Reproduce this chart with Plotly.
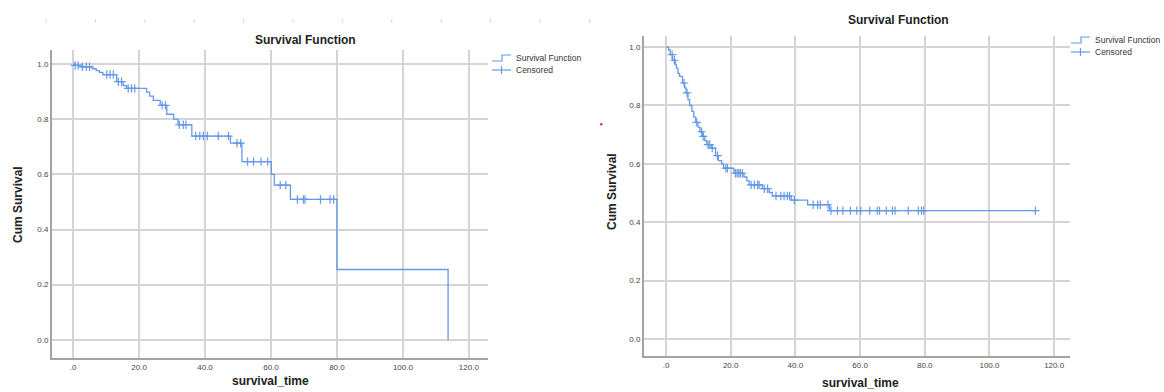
import numpy as np
import plotly.graph_objects as go

# ---------------- data ----------------
x_ticks = [0, 20, 40, 60, 80, 100, 120]
x_tick_labels = [".0", "20.0", "40.0", "60.0", "80.0", "100.0", "120.0"]
y_ticks = [0.0, 0.2, 0.4, 0.6, 0.8, 1.0]
y_tick_labels = ["0.0", "0.2", "0.4", "0.6", "0.8", "1.0"]

# Left chart: event times and survival after each event
left_event_times = [0.4, 2.5, 5.8, 7.0, 8.0, 9.0, 13.2, 15.2, 16.2, 22.3, 23.2, 24.3, 26.4,
                    28.4, 30.5, 31.8, 36.0, 47.7, 51.2, 60.1, 61.0, 65.9, 80.0, 113.7]
left_survival = [0.995, 0.99, 0.983, 0.976, 0.970, 0.962, 0.936, 0.922, 0.912, 0.898, 0.884,
                 0.868, 0.850, 0.818, 0.800, 0.780, 0.739, 0.713, 0.646, 0.600, 0.561, 0.509,
                 0.255, 0.0]
left_censored_times = [0.6, 1.5, 2.8, 4.0, 5.0, 10.2, 11.2, 12.2, 13.7, 14.7, 16.7, 17.7, 18.7,
                       27.0, 28.0, 32.2, 33.4, 34.2, 37.2, 38.4, 39.5, 40.7, 44.0, 47.1, 49.7,
                       50.8, 52.9, 54.7, 57.0, 59.0, 62.8, 64.5, 68.0, 69.8, 70.3, 75.0, 77.9, 79.0]

# Right chart
right_event_times = [0.8, 1.3, 2.0, 2.9, 3.2, 3.7, 4.2, 5.1, 5.8, 6.2, 6.8, 7.3, 8.0, 8.6, 9.2,
                     9.9, 10.5, 11.4, 12.0, 12.6, 14.0, 15.3, 16.2, 17.2, 17.8, 21.0, 24.1, 25.0,
                     25.7, 29.8, 31.9, 32.9, 38.7, 43.8, 50.6]
right_survival = [0.99, 0.974, 0.955, 0.94, 0.928, 0.91, 0.90, 0.877, 0.86, 0.843, 0.82, 0.80,
                  0.78, 0.76, 0.742, 0.726, 0.71, 0.694, 0.68, 0.666, 0.654, 0.628, 0.611, 0.60,
                  0.585, 0.568, 0.555, 0.542, 0.528, 0.515, 0.502, 0.49, 0.476, 0.46, 0.44]
right_last_time = 114.2
right_censored_times = [1.9, 2.6, 5.6, 6.5, 9.5, 11.0, 11.5, 13.0, 13.5, 14.3, 15.9, 18.5, 19.0,
                        21.5, 22.0, 22.5, 23.0, 23.6, 26.3, 27.3, 28.3, 28.8, 30.4, 31.4, 34.0,
                        35.5, 36.5, 37.5, 38.2, 39.7, 45.5, 46.9, 47.7, 50.1, 51.0, 53.0, 54.7,
                        57.0, 59.0, 60.2, 63.0, 65.3, 66.0, 68.1, 70.0, 70.8, 74.9, 78.0, 79.0,
                        79.7, 114.2]

# ---------------- helpers ----------------
W, H = 1164, 392
COL = "#6499e9"
GRID = "#d4d4d4"
AXIS = "#a3a3a3"
FONT = "Liberation Sans"


def fx(x):
    return x / W


def fy(y):
    return 1 - y / H


def surv_at(times, surv, t):
    times = np.asarray(times)
    i = np.searchsorted(times, t, side="right") - 1
    return 1.0 if i < 0 else surv[i]


fig = go.Figure()

marker_style = dict(symbol="cross-thin", size=6, color=COL, line=dict(width=1.2, color=COL))

# left curve
lx = [0.0] + left_event_times
ly = [1.0] + left_survival
fig.add_trace(go.Scatter(x=lx, y=ly, mode="lines", line=dict(color=COL, width=1.3, shape="hv"),
                         xaxis="x", yaxis="y", showlegend=False, hoverinfo="skip"))
fig.add_trace(go.Scatter(x=left_censored_times,
                         y=[surv_at(left_event_times, left_survival, t) for t in left_censored_times],
                         mode="markers", marker=marker_style,
                         xaxis="x", yaxis="y", showlegend=False, hoverinfo="skip"))

# right curve
rx = [0.0] + right_event_times + [right_last_time]
ry = [1.0] + right_survival + [right_survival[-1]]
fig.add_trace(go.Scatter(x=rx, y=ry, mode="lines", line=dict(color=COL, width=1.3, shape="hv"),
                         xaxis="x2", yaxis="y2", showlegend=False, hoverinfo="skip"))
fig.add_trace(go.Scatter(x=right_censored_times,
                         y=[surv_at(right_event_times, right_survival, t) for t in right_censored_times],
                         mode="markers", marker=marker_style,
                         xaxis="x2", yaxis="y2", showlegend=False, hoverinfo="skip"))

common = dict(showgrid=True, gridcolor=GRID, gridwidth=1.5, showline=True, linecolor=AXIS,
              linewidth=2, ticks="", zeroline=False, fixedrange=True,
              tickfont=dict(family=FONT, size=8, color="#444"))

xcommon = dict(common, tickmode="array", tickvals=x_ticks, ticktext=x_tick_labels)
ycommon = dict(common, tickmode="array", tickvals=y_ticks, ticktext=y_tick_labels)

fig.update_layout(
    width=W, height=H,
    margin=dict(l=0, r=0, t=0, b=0),
    paper_bgcolor="white", plot_bgcolor="white",
    showlegend=False,
    xaxis=dict(xcommon, domain=[fx(52), fx(488)], range=[-6.4, 125.8], anchor="y"),
    yaxis=dict(ycommon, domain=[fy(358), fy(50)], range=[-0.066, 1.051], anchor="x"),
    xaxis2=dict(xcommon, domain=[fx(644), fx(1070)], range=[-6.8, 124.9], anchor="y2"),
    yaxis2=dict(ycommon, domain=[fy(356), fy(36)], range=[-0.058, 1.038], anchor="x2"),
)

ann = []
shapes = []


def text(x, y, s, size, bold=False, angle=0, xanchor="center", color="#222"):
    ann.append(dict(x=fx(x), y=fy(y), xref="paper", yref="paper", text=f"<b>{s}</b>" if bold else s,
                    showarrow=False, xanchor=xanchor, yanchor="middle", textangle=angle,
                    font=dict(family=FONT, size=size, color=color)))


# titles
text(305, 40, "Survival Function", 12, bold=True)
text(898, 20, "Survival Function", 12, bold=True)
text(18, 205, "Cum Survival", 12, bold=True, angle=-90)
text(612, 192, "Cum Survival", 12, bold=True, angle=-90)
text(270, 381, "survival_time", 12, bold=True)
text(860, 383, "survival_time", 12, bold=True)


def legend(x0, y0):
    # step icon for survival function
    pts = [(x0, y0 + 3), (x0 + 10, y0 + 3), (x0 + 10, y0 - 3), (x0 + 19, y0 - 3)]
    path = "M " + " L ".join(f"{fx(a)},{fy(b)}" for a, b in pts)
    shapes.append(dict(type="path", path=path, xref="paper", yref="paper",
                       line=dict(color=COL, width=1.2)))
    # censored icon
    yc = y0 + 12
    shapes.append(dict(type="line", x0=fx(x0), x1=fx(x0 + 19), y0=fy(yc), y1=fy(yc),
                       xref="paper", yref="paper", line=dict(color=COL, width=1.2)))
    shapes.append(dict(type="line", x0=fx(x0 + 9.5), x1=fx(x0 + 9.5), y0=fy(yc - 4), y1=fy(yc + 4),
                       xref="paper", yref="paper", line=dict(color=COL, width=1.2)))
    text(x0 + 22, y0, "Survival Function", 8.5, xanchor="left", color="#333")
    text(x0 + 22, yc, "Censored", 8.5, xanchor="left", color="#333")


legend(492, 58)
legend(1071, 40)

# faint ruler ticks at top-left
for k in range(12):
    xx = 46 + 49.4 * k
    shapes.append(dict(type="line", x0=fx(xx), x1=fx(xx), y0=fy(19), y1=fy(23), xref="paper",
                       yref="paper", line=dict(color="#d8d8d8", width=1)))

# small red dot
shapes.append(dict(type="circle", x0=fx(600), x1=fx(602.5), y0=fy(125.5), y1=fy(123), xref="paper",
                   yref="paper", fillcolor="#e03030", line=dict(width=0)))

fig.update_layout(annotations=ann, shapes=shapes)
fig.write_html("out.html", config={"displayModeBar": False},
               post_script="document.body.style.margin='0';document.body.style.overflow='hidden';")
